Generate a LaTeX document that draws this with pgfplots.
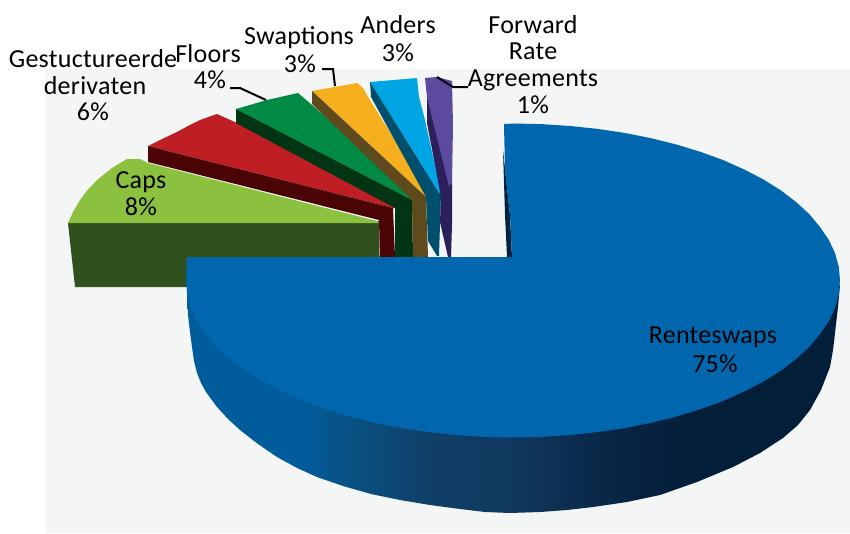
\documentclass[border=0pt]{standalone}
\usepackage{pgfplots}
\pgfplotsset{compat=1.18}
\usepackage{fontspec}
\setmainfont[LetterSpace=1]{Carlito}
\definecolor{sb0}{HTML}{005C9A}
\definecolor{sb1}{HTML}{0A4F80}
\definecolor{sb2}{HTML}{103F66}
\definecolor{sb3}{HTML}{103A60}
\definecolor{sb4}{HTML}{0C2D50}
\definecolor{sb5}{HTML}{06223F}
\definecolor{sb6}{HTML}{031E38}
\pgfdeclarehorizontalshading{sideblue}{100bp}{color(0bp)=(sb0); color(33.7bp)=(sb0); color(38.2bp)=(sb1); color(43.6bp)=(sb2); color(49bp)=(sb3); color(54.3bp)=(sb4); color(59.7bp)=(sb5); color(64.3bp)=(sb6); color(100bp)=(sb6)}
\definecolor{bg}{HTML}{F4F6F6}
\definecolor{bluetop}{HTML}{0066AE}
\definecolor{bluedark}{HTML}{03223F}
\definecolor{capst}{HTML}{8BC13F}
\definecolor{capss}{HTML}{30501E}
\definecolor{redt}{HTML}{BE1E24}
\definecolor{reds}{HTML}{4A0404}
\definecolor{gret}{HTML}{008A44}
\definecolor{gres}{HTML}{013514}
\definecolor{orat}{HTML}{F5AF1E}
\definecolor{oras}{HTML}{5F4A1E}
\definecolor{cyat}{HTML}{00A5E3}
\definecolor{cyas}{HTML}{004F6C}
\definecolor{purt}{HTML}{5C4A9F}
\definecolor{purs}{HTML}{2B1F5C}
\begin{document}
\begin{tikzpicture}
\begin{axis}[
  width=850pt,height=533pt,scale only axis,
  xmin=0,xmax=850,ymin=0,ymax=533,y dir=reverse,
  hide axis,clip=false,
]
% page and plot area
\addplot[draw=none,fill=white] coordinates {(0,0)(850,0)(850,533)(0,533)} --cycle;
\addplot[draw=none,fill=bg] coordinates {(46,69)(850,69)(850,533)(46,533)} --cycle;
% Caps
\addplot[draw=none,fill=capss] coordinates {(68,223)(379,221)(380,290)(187,287)(75,287)} --cycle;
\addplot[draw=none,fill=capst] coordinates {(377,221)(148,163)(140,159)(127,159)(112,168)(97,180)(86,192)(80,200)(73,212)(68,223)(379,223)} --cycle;
% Gestructureerde derivaten
\addplot[draw=none,fill=redt] coordinates {(393,208)(148,146)(162,139)(177,132)(188,126)(200,120)(217,114)(237,123)(400,208)} --cycle;
\addplot[draw=none,fill=reds] coordinates {(148,146)(393,208)(395,257)(380,257)(379,220)(148,162)} --cycle;
% Floors
\addplot[draw=none,fill=gret] coordinates {(412,200)(236,109)(267,100)(298,93)(312,105)(420,200)} --cycle;
\addplot[draw=none,fill=gres] coordinates {(236,109)(412,200)(413,257)(395,257)(395,208)(236,123)} --cycle;
% Swaptions
\addplot[draw=none,fill=orat] coordinates {(426,197)(312,91)(357,83)(363,88)(370,100)(430,197)} --cycle;
\addplot[draw=none,fill=oras] coordinates {(312,91)(426,197)(428,257)(413,257)(412,200)(312,104)} --cycle;
% Anders
\addplot[draw=none,fill=cyat] coordinates {(439,193)(370,82)(417,78)(419,97)(425,120)(441,193)} --cycle;
\addplot[draw=none,fill=cyas] coordinates {(370,82)(439,193)(441,193)(439,256)(437,256)(428,241)(426,197)(371,97)} --cycle;
% Forward Rate Agreements
\addplot[draw=none,fill=purt] coordinates {(425,78)(437,77)(452,81)(453,125)(452,183)(449,190)(427,97)} --cycle;
\addplot[draw=none,fill=purs] coordinates {(427,97)(449,187)(452,183)(452,225)(451,257)(448,257)(440,222)(441,197)(427,123)} --cycle;
% Renteswaps side
\addplot[draw=none,shading=sideblue] coordinates {(187,280)(187,293)(188,315)(190,332)(192,347)(194,361)(197,373)(201,383)(206,392)(217,407)(228,419)(240,430)(258,444)(277,457)(297,468)(317,477)(343,486)(371,494)(400,500)(430,505)(460,509)(485,512)(510,513)(540,512)(567,510)(593,507)(627,502)(660,495)(697,482)(733,467)(760,453)(783,438)(798,425)(810,410)(821,390)(830,367)(833,350)(835,333)(838,307)(840,285)} --cycle;
\addplot[draw=none,fill=bluedark] coordinates {(503,150)(505,215)(507,257)(512,257)(510,215)} --cycle;
% Renteswaps top
\addplot[draw=none,fill=bluetop] coordinates {(504,124)(513,123.5)(541.5,124.1)(570,126)(597.6,128.9)(625,133)(651.2,138.2)(676.5,144.5)(700.6,151.9)(723,160)(744.2,169.5)(763.5,179.5)(780.9,190.4)(796,202)(809.4,214.2)(820,227)(828.8,239.9)(835,253)(838.8,266.8)(840,280.5)(838.8,294.2)(835,308)(828.8,321.1)(820,334)(809.4,346.8)(796,359)(780.9,370.6)(763.5,381.5)(744.2,391.5)(723,401)(700.6,409.1)(676.5,416.5)(651.2,422.8)(625,428)(597.6,432.1)(570,435)(541.5,436.9)(513,437.5)(484.5,436.9)(456,435)(428.4,432.1)(401,428)(374.8,422.8)(349.5,416.5)(325.4,409.1)(303,401)(281.8,391.5)(262.5,381.5)(245.1,370.6)(230,359)(216.6,346.8)(206,334)(197.2,321.1)(191,308)(187.2,294.2)(186,280.5)(187,257)(512,257)(510,215)(505,170)} --cycle;
% leaders
\addplot[black,line width=2pt] coordinates {(230,88)(240,88)(266,100)};
\addplot[black,line width=2pt] coordinates {(322,69)(333,69)(335,86)};
\addplot[black,line width=2pt] coordinates {(437,77)(453,87)(468,87)};
% labels
\tikzset{lab/.style={anchor=base,inner sep=0pt,font=\fontsize{26}{27}\selectfont}}
\node[lab] at (axis cs:93,67) {Gestuctureerde};
\node[lab] at (axis cs:95,94) {derivaten};
\node[lab] at (axis cs:93,120) {6\%};
\node[lab] at (axis cs:208,62) {Floors};
\node[lab] at (axis cs:210,88) {4\%};
\node[lab] at (axis cs:299,44) {Swaptions};
\node[lab] at (axis cs:300,72) {3\%};
\node[lab] at (axis cs:398,33) {Anders};
\node[lab] at (axis cs:398,61) {3\%};
\node[lab] at (axis cs:533,33) {Forward};
\node[lab] at (axis cs:533,59) {Rate};
\node[lab] at (axis cs:533,86) {Agreements};
\node[lab] at (axis cs:533,113) {1\%};
\node[lab] at (axis cs:141,188) {Caps};
\node[lab] at (axis cs:141,215) {8\%};
\node[lab] at (axis cs:713,343) {Renteswaps};
\node[lab] at (axis cs:715,372) {75\%};
\end{axis}
\end{tikzpicture}
\end{document}
